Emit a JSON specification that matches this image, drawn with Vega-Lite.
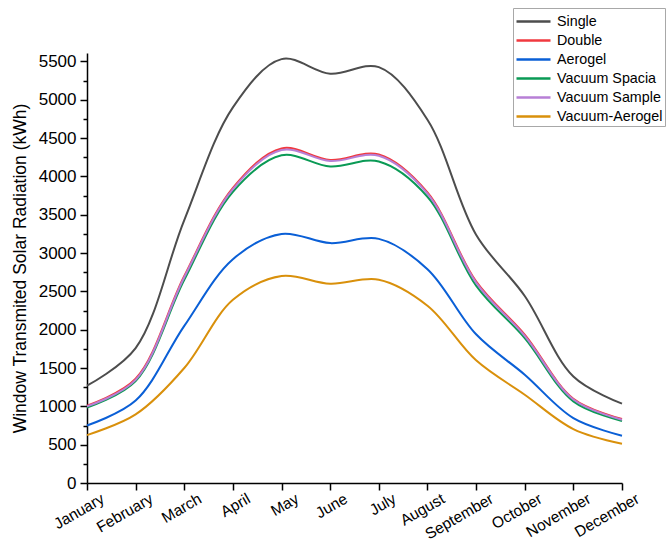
{
  "$schema": "https://vega.github.io/schema/vega-lite/v6.json",
  "width": 535,
  "height": 430,
  "autosize": "none",
  "padding": {"left": 87, "top": 53, "right": 45, "bottom": 60},
  "background": "white",
  "config": {
    "view": {"stroke": null},
    "font": "Liberation Sans",
    "axis": {
      "domainColor": "black",
      "domainWidth": 1.5,
      "tickColor": "black",
      "tickWidth": 1.5,
      "labelColor": "black",
      "titleColor": "black",
      "grid": false,
      "labelFont": "Liberation Sans",
      "titleFont": "Liberation Sans",
      "titleFontWeight": "normal"
    },
    "legend": {
      "labelFont": "Liberation Sans"
    }
  },
  "data": {
    "values": [
      {"month": "January", "series": "Single", "value": 1270},
      {"month": "February", "series": "Single", "value": 1760},
      {"month": "March", "series": "Single", "value": 3430},
      {"month": "April", "series": "Single", "value": 4900},
      {"month": "May", "series": "Single", "value": 5530},
      {"month": "June", "series": "Single", "value": 5340},
      {"month": "July", "series": "Single", "value": 5425},
      {"month": "August", "series": "Single", "value": 4740},
      {"month": "September", "series": "Single", "value": 3240},
      {"month": "October", "series": "Single", "value": 2440},
      {"month": "November", "series": "Single", "value": 1390},
      {"month": "December", "series": "Single", "value": 1035},

      {"month": "January", "series": "Double", "value": 1010},
      {"month": "February", "series": "Double", "value": 1360},
      {"month": "March", "series": "Double", "value": 2700},
      {"month": "April", "series": "Double", "value": 3850},
      {"month": "May", "series": "Double", "value": 4365},
      {"month": "June", "series": "Double", "value": 4215},
      {"month": "July", "series": "Double", "value": 4285},
      {"month": "August", "series": "Double", "value": 3790},
      {"month": "September", "series": "Double", "value": 2630},
      {"month": "October", "series": "Double", "value": 1935},
      {"month": "November", "series": "Double", "value": 1100},
      {"month": "December", "series": "Double", "value": 835},

      {"month": "January", "series": "Aerogel", "value": 750},
      {"month": "February", "series": "Aerogel", "value": 1075},
      {"month": "March", "series": "Aerogel", "value": 2050},
      {"month": "April", "series": "Aerogel", "value": 2920},
      {"month": "May", "series": "Aerogel", "value": 3250},
      {"month": "June", "series": "Aerogel", "value": 3130},
      {"month": "July", "series": "Aerogel", "value": 3185},
      {"month": "August", "series": "Aerogel", "value": 2790},
      {"month": "September", "series": "Aerogel", "value": 1940},
      {"month": "October", "series": "Aerogel", "value": 1413},
      {"month": "November", "series": "Aerogel", "value": 847},
      {"month": "December", "series": "Aerogel", "value": 617},

      {"month": "January", "series": "Vacuum Spacia", "value": 985},
      {"month": "February", "series": "Vacuum Spacia", "value": 1330},
      {"month": "March", "series": "Vacuum Spacia", "value": 2650},
      {"month": "April", "series": "Vacuum Spacia", "value": 3800},
      {"month": "May", "series": "Vacuum Spacia", "value": 4275},
      {"month": "June", "series": "Vacuum Spacia", "value": 4130},
      {"month": "July", "series": "Vacuum Spacia", "value": 4195},
      {"month": "August", "series": "Vacuum Spacia", "value": 3735},
      {"month": "September", "series": "Vacuum Spacia", "value": 2575},
      {"month": "October", "series": "Vacuum Spacia", "value": 1890},
      {"month": "November", "series": "Vacuum Spacia", "value": 1065},
      {"month": "December", "series": "Vacuum Spacia", "value": 810},

      {"month": "January", "series": "Vacuum Sample", "value": 1000},
      {"month": "February", "series": "Vacuum Sample", "value": 1345},
      {"month": "March", "series": "Vacuum Sample", "value": 2685},
      {"month": "April", "series": "Vacuum Sample", "value": 3835},
      {"month": "May", "series": "Vacuum Sample", "value": 4345},
      {"month": "June", "series": "Vacuum Sample", "value": 4200},
      {"month": "July", "series": "Vacuum Sample", "value": 4270},
      {"month": "August", "series": "Vacuum Sample", "value": 3775},
      {"month": "September", "series": "Vacuum Sample", "value": 2615},
      {"month": "October", "series": "Vacuum Sample", "value": 1920},
      {"month": "November", "series": "Vacuum Sample", "value": 1090},
      {"month": "December", "series": "Vacuum Sample", "value": 825},

      {"month": "January", "series": "Vacuum-Aerogel", "value": 625},
      {"month": "February", "series": "Vacuum-Aerogel", "value": 895},
      {"month": "March", "series": "Vacuum-Aerogel", "value": 1500},
      {"month": "April", "series": "Vacuum-Aerogel", "value": 2390},
      {"month": "May", "series": "Vacuum-Aerogel", "value": 2700},
      {"month": "June", "series": "Vacuum-Aerogel", "value": 2600},
      {"month": "July", "series": "Vacuum-Aerogel", "value": 2652},
      {"month": "August", "series": "Vacuum-Aerogel", "value": 2313},
      {"month": "September", "series": "Vacuum-Aerogel", "value": 1600},
      {"month": "October", "series": "Vacuum-Aerogel", "value": 1152},
      {"month": "November", "series": "Vacuum-Aerogel", "value": 704},
      {"month": "December", "series": "Vacuum-Aerogel", "value": 513}
    ]
  },
  "resolve": {"axis": {"y": "independent"}},
  "layer": [
    {
      "mark": {"type": "line", "interpolate": "catmull-rom", "strokeWidth": 2},
      "encoding": {
        "x": {
          "field": "month",
          "type": "ordinal",
          "sort": ["January", "February", "March", "April", "May", "June", "July", "August", "September", "October", "November", "December"],
          "scale": {"type": "point", "padding": 0},
          "axis": {
            "title": null,
            "labelAngle": -30,
            "labelAlign": "right",
            "labelBaseline": "top",
            "labelOffset": 12,
            "labelPadding": 1,
            "labelFontSize": 15.5,
            "tickSize": 7
          }
        },
        "y": {
          "field": "value",
          "type": "quantitative",
          "scale": {"domain": [0, 5610], "nice": false},
          "axis": {
            "title": "Window Transmited Solar Radiation (kWh)",
            "titleFontSize": 17.5,
            "titlePadding": 9,
            "format": "d",
            "values": [0, 500, 1000, 1500, 2000, 2500, 3000, 3500, 4000, 4500, 5000, 5500],
            "labelFontSize": 17,
            "labelPadding": 4,
            "tickSize": 7
          }
        },
        "color": {
          "field": "series",
          "type": "nominal",
          "sort": ["Single", "Double", "Aerogel", "Vacuum Spacia", "Vacuum Sample", "Vacuum-Aerogel"],
          "scale": {
            "domain": ["Single", "Double", "Aerogel", "Vacuum Spacia", "Vacuum Sample", "Vacuum-Aerogel"],
            "range": ["#4d4d4d", "#f0393f", "#0a5fd6", "#0a9a55", "#b77fd6", "#d9900b"]
          },
          "legend": {
            "title": null,
            "orient": "none",
            "legendX": 426,
            "legendY": -45,
            "symbolType": "M-1,0H2.4",
            "symbolSize": 400,
            "symbolStrokeWidth": 2.5,
            "labelFontSize": 14.3,
            "labelOffset": 19,
            "labelLimit": 0,
            "labelColor": "black",
            "strokeColor": "#a8a8a8",
            "fillColor": "white",
            "padding": 2,
            "rowPadding": 0
          }
        },
        "order": {"field": "series"}
      }
    },
    {
      "mark": {"type": "point", "opacity": 0},
      "encoding": {
        "x": {
          "field": "month",
          "type": "ordinal",
          "sort": ["January", "February", "March", "April", "May", "June", "July", "August", "September", "October", "November", "December"],
          "scale": {"type": "point", "padding": 0}
        },
        "y": {
          "field": "value",
          "type": "quantitative",
          "axis": {
            "orient": "left",
            "title": null,
            "labels": false,
            "domain": false,
            "values": [250, 750, 1250, 1750, 2250, 2750, 3250, 3750, 4250, 4750, 5250],
            "tickSize": 4
          }
        }
      }
    }
  ]
}
